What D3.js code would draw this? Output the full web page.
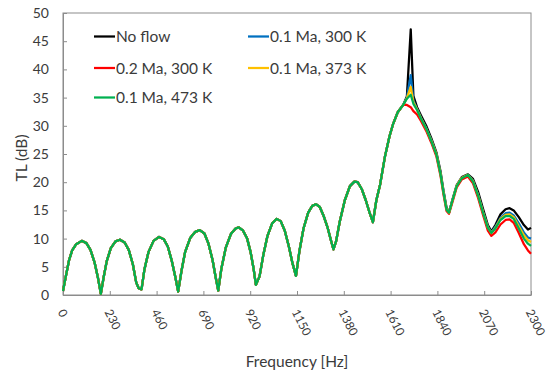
<!DOCTYPE html>
<html>
<head>
<meta charset="utf-8">
<script src="https://cdn.jsdelivr.net/npm/d3@7"></script>
<style>
  body { margin: 0; background: #fff; }
  text { font-family: Lato, 'Open Sans', sans-serif; fill: #3b3b3b; }
</style>
</head>
<body>
<div id="chart"></div>
<script>
// frequency / TL where all five cases overlap
const freqLow = [0, 15, 30, 45, 65, 92, 115, 135, 155, 172, 186, 200, 215, 235, 258, 280, 303, 323, 343, 360, 372, 386, 400, 420, 445, 472, 495, 515, 535, 552, 566, 582, 600, 625, 650, 672, 695, 715, 735, 750, 763, 778, 800, 825, 848, 864, 885, 905, 922, 937, 948, 966, 985, 1005, 1028, 1050, 1070, 1090, 1110, 1128, 1145, 1162, 1182, 1205, 1225, 1243, 1262, 1280, 1300, 1316, 1329, 1342, 1360, 1385, 1410, 1432, 1448, 1468, 1488, 1505, 1523, 1540, 1558, 1582, 1605, 1623, 1645, 1672]
const tlLow = [0.7, 3.5, 6.2, 7.9, 9.0, 9.6, 9.2, 8.0, 5.8, 3.0, 0.2, 3.2, 6.0, 8.3, 9.5, 9.8, 9.3, 8.0, 5.5, 2.2, 1.2, 1.0, 4.5, 7.6, 9.6, 10.3, 9.9, 8.6, 6.0, 3.2, 0.6, 4.2, 7.6, 10.1, 11.2, 11.5, 10.9, 9.1, 6.2, 3.2, 0.8, 4.6, 8.4, 10.8, 11.8, 12.0, 11.4, 10.0, 7.6, 4.6, 1.8, 3.3, 7.2, 10.5, 12.7, 13.5, 13.1, 11.4, 8.6, 5.6, 3.4, 7.8, 11.8, 14.6, 15.8, 16.1, 15.6, 14.1, 12.0, 9.8, 8.1, 9.5, 13.0, 16.8, 19.3, 20.1, 20.0, 18.8, 16.8, 14.8, 12.9, 16.8, 19.5, 24.5, 28.2, 30.4, 32.4, 33.7]

// above ~1680 Hz the cases split
const freqHigh = [1690, 1709, 1722, 1740, 1760, 1785, 1810, 1835, 1855, 1870, 1885, 1897, 1915, 1935, 1960, 1990, 2015, 2040, 2065, 2088, 2105, 2125, 2150, 2175, 2195, 2215, 2240, 2265, 2285, 2300]
const tlNoFlow = [35.2, 47.1, 35.3, 33.3, 31.8, 30.0, 27.8, 25.3, 22.0, 18.5, 15.5, 14.6, 17.0, 19.5, 20.9, 21.4, 20.6, 18.3, 15.2, 12.4, 11.3, 12.4, 14.3, 15.2, 15.4, 15.0, 13.8, 12.4, 11.6, 11.9]
const tlMa01T300 = [35.0, 39.0, 34.5, 33.0, 31.4, 29.6, 27.5, 25.0, 21.7, 18.3, 15.3, 14.6, 17.0, 19.4, 20.8, 21.3, 20.3, 17.8, 14.7, 12.1, 11.1, 12.1, 13.7, 14.5, 14.6, 14.1, 12.7, 11.1, 10.2, 10.0]
const tlMa02T300 = [33.7, 33.3, 32.6, 32.0, 30.8, 29.1, 27.0, 24.6, 21.2, 17.8, 14.9, 14.4, 16.6, 19.1, 20.5, 21.0, 19.8, 17.2, 14.1, 11.4, 10.5, 11.1, 12.5, 13.3, 13.4, 12.8, 11.0, 9.0, 7.9, 7.3]
const tlMa01T373 = [34.9, 36.9, 34.2, 32.9, 31.3, 29.5, 27.4, 25.0, 21.6, 18.2, 15.2, 14.6, 16.9, 19.4, 20.8, 21.3, 20.2, 17.7, 14.6, 12.0, 11.0, 11.9, 13.5, 14.2, 14.3, 13.8, 12.2, 10.6, 9.7, 9.4]
const tlMa01T473 = [34.8, 35.5, 33.9, 32.8, 31.2, 29.5, 27.3, 24.9, 21.5, 18.1, 15.1, 14.6, 16.9, 19.3, 20.7, 21.3, 20.1, 17.6, 14.5, 11.9, 11.0, 11.8, 13.3, 14.0, 14.0, 13.5, 11.8, 10.0, 9.1, 8.7]

const names = ['No flow', '0.1 Ma, 300 K', '0.2 Ma, 300 K', '0.1 Ma, 373 K', '0.1 Ma, 473 K']
const colors = ['#000000', '#0070c0', '#ff0000', '#ffc000', '#00b050']
const xTicks = [0, 230, 460, 690, 920, 1150, 1380, 1610, 1840, 2070, 2300]
const yTicks = [0, 5, 10, 15, 20, 25, 30, 35, 40, 45, 50]

const margin = { top: 13, left: 63, right: 16, bottom: 77 }
const width = 547 - margin.left - margin.right
const height = 372 - margin.top - margin.bottom

const svg = d3
  .select('#chart')
  .append('svg')
  .attr('width', 547)
  .attr('height', 372)
  .append('g')
  .attr('transform', 'translate(' + margin.left + ',' + margin.top + ')')

const xPositionScale = d3.scaleLinear().domain([0, 2300]).range([0, width])
const yPositionScale = d3.scaleLinear().domain([0, 50]).range([height, 0])

const tails = [tlNoFlow, tlMa01T300, tlMa02T300, tlMa01T373, tlMa01T473]
const series = names.map((name, i) => {
  const tl = tlLow.concat(tails[i])
  return {
    key: name,
    color: colors[i],
    values: freqLow.concat(freqHigh).map((f, j) => ({ freq: f, tl: tl[j] }))
  }
})

// frame
svg
  .append('rect')
  .attr('width', width)
  .attr('height', height)
  .attr('fill', 'none')
  .attr('stroke', '#8c8c8c')
  .attr('stroke-width', 1)

const yAxis = d3
  .axisLeft(yPositionScale)
  .tickValues(yTicks)
  .tickSizeInner(-4)
  .tickSizeOuter(0)
  .tickPadding(14)
svg
  .append('g')
  .attr('class', 'axis y-axis')
  .call(yAxis)

const xAxis = d3
  .axisBottom(xPositionScale)
  .tickValues(xTicks)
  .tickFormat(d3.format('d'))
  .tickSizeInner(-4)
  .tickSizeOuter(0)
svg
  .append('g')
  .attr('class', 'axis x-axis')
  .attr('transform', 'translate(0,' + height + ')')
  .call(xAxis)

svg.selectAll('.axis .domain').attr('stroke', '#8c8c8c')
svg.selectAll('.axis .tick line').attr('stroke', '#8c8c8c')
svg
  .selectAll('.y-axis text')
  .attr('font-size', 14)
  .attr('fill', '#3b3b3b')
  .style('font-family', 'Lato, sans-serif')

svg
  .selectAll('.x-axis .tick text')
  .attr('y', null)
  .attr('dy', null)
  .attr('font-size', 12)
  .attr('fill', '#3b3b3b')
  .style('font-family', 'Lato, sans-serif')
  .attr('text-anchor', 'start')
  .attr('transform', 'translate(-6,17) rotate(63)')

const line = d3
  .line()
  .x(d => xPositionScale(d.freq))
  .y(d => yPositionScale(d.tl))

svg
  .selectAll('.tl-line')
  .data(series)
  .enter()
  .append('path')
  .attr('class', 'tl-line')
  .attr('d', d => line(d.values))
  .attr('fill', 'none')
  .attr('stroke', d => d.color)
  .attr('stroke-width', 2.25)
  .attr('stroke-linejoin', 'round')

// legend: two columns
const legendPos = [[31, 29], [185, 29], [31, 60.5], [185, 60.5], [31, 90]]
const legend = svg
  .selectAll('.legend-item')
  .data(series)
  .enter()
  .append('g')
  .attr('class', 'legend-item')
  .attr('transform', (d, i) => 'translate(' + legendPos[i][0] + ',' + legendPos[i][1] + ')')

legend
  .append('line')
  .attr('x1', 0)
  .attr('x2', 21)
  .attr('y1', -5.5)
  .attr('y2', -5.5)
  .attr('stroke', d => d.color)
  .attr('stroke-width', 2.25)

legend
  .append('text')
  .attr('x', 22)
  .attr('font-size', 15.5)
  .text(d => d.key)

svg
  .append('text')
  .attr('x', width / 2)
  .attr('y', 367 - margin.top)
  .attr('text-anchor', 'middle')
  .attr('font-size', 15.5)
  .text('Frequency [Hz]')

svg
  .append('text')
  .attr('transform', 'translate(' + (27 - margin.left) + ',' + (158 - margin.top) + ') rotate(-90)')
  .attr('text-anchor', 'middle')
  .attr('font-size', 15.5)
  .text('TL (dB)')
</script>
</body>
</html>
